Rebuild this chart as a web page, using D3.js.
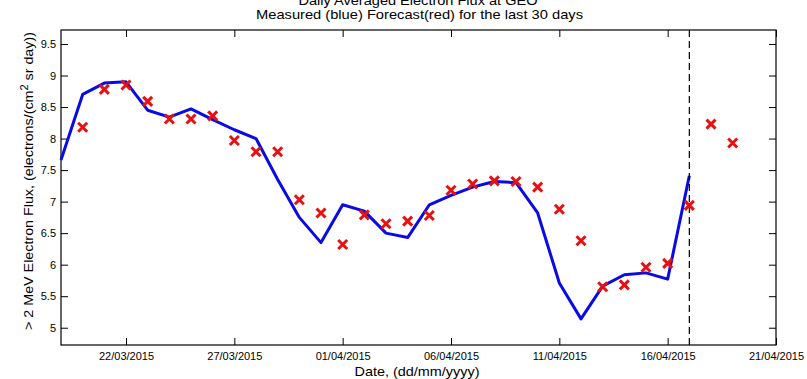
<!DOCTYPE html>
<html>
<head>
<meta charset="utf-8">
<script src="https://cdn.jsdelivr.net/npm/d3@7"></script>
<style>
  body { margin: 0; background: #fff; }
  svg { display: block; font-family: "Liberation Sans", Arial, Helvetica, sans-serif; }
</style>
</head>
<body>
<svg id="chart" width="807" height="379"></svg>
<script>
// ---- Data ----
const measuredDates = ["2015-03-19","2015-03-20","2015-03-21","2015-03-22","2015-03-23","2015-03-24","2015-03-25","2015-03-26","2015-03-27","2015-03-28","2015-03-29","2015-03-30","2015-03-31","2015-04-01","2015-04-02","2015-04-03","2015-04-04","2015-04-05","2015-04-06","2015-04-07","2015-04-08","2015-04-09","2015-04-10","2015-04-11","2015-04-12","2015-04-13","2015-04-14","2015-04-15","2015-04-16","2015-04-17"];
const measuredValues = [7.66,8.70,8.88,8.90,8.45,8.34,8.47,8.30,8.14,8.00,7.35,6.75,6.35,6.95,6.85,6.50,6.43,6.95,7.10,7.23,7.32,7.30,6.82,5.71,5.14,5.66,5.84,5.87,5.77,7.41];

const forecastDates = ["2015-03-20","2015-03-21","2015-03-22","2015-03-23","2015-03-24","2015-03-25","2015-03-26","2015-03-27","2015-03-28","2015-03-29","2015-03-30","2015-03-31","2015-04-01","2015-04-02","2015-04-03","2015-04-04","2015-04-05","2015-04-06","2015-04-07","2015-04-08","2015-04-09","2015-04-10","2015-04-11","2015-04-12","2015-04-13","2015-04-14","2015-04-15","2015-04-16","2015-04-17","2015-04-18","2015-04-19"];
const forecastValues = [8.18,8.78,8.85,8.59,8.31,8.31,8.36,7.97,7.79,7.79,7.03,6.82,6.32,6.79,6.65,6.69,6.78,7.18,7.28,7.33,7.32,7.23,6.88,6.38,5.65,5.68,5.96,6.02,6.94,8.23,7.93];

const xTickDates = ["2015-03-22","2015-03-27","2015-04-01","2015-04-06","2015-04-11","2015-04-16","2015-04-21"];
const xTickLabels = ["22/03/2015","27/03/2015","01/04/2015","06/04/2015","11/04/2015","16/04/2015","21/04/2015"];
const yTickValues = [5,5.5,6,6.5,7,7.5,8,8.5,9,9.5];
const yTickLabels = ["5","5.5","6","6.5","7","7.5","8","8.5","9","9.5"];
const xDomain = ["2015-03-19","2015-04-21"];
const yDomain = [4.726, 9.722];
const nowcastDate = "2015-04-17";

const titleLines = ["Daily Averaged Electron Flux at GEO","Measured (blue) Forecast(red) for the last 30 days"];
const xLabel = "Date, (dd/mm/yyyy)";

// ---- Layout ----
const parse = d3.utcParse("%Y-%m-%d");
const L = 61, R = 776, T = 30, B = 345;
const svg = d3.select("#chart");

const x = d3.scaleUtc().domain(xDomain.map(parse)).range([L, R]);
const y = d3.scaleLinear().domain(yDomain).range([B, T]);

const tickLen = 7;

const xAxisB = d3.axisBottom(x).tickValues(xTickDates.map(parse))
  .tickFormat((d, i) => xTickLabels[i]).tickSizeInner(-tickLen).tickSizeOuter(0).tickPadding(7);
const xAxisT = d3.axisTop(x).tickValues(xTickDates.map(parse))
  .tickFormat("").tickSizeInner(-tickLen).tickSizeOuter(0);
const yAxisL = d3.axisLeft(y).tickValues(yTickValues)
  .tickFormat((d, i) => yTickLabels[i]).tickSizeInner(-tickLen).tickSizeOuter(0).tickPadding(5);
const yAxisR = d3.axisRight(y).tickValues(yTickValues)
  .tickFormat("").tickSizeInner(-tickLen).tickSizeOuter(0);

function styleAxis(g) {
  g.selectAll(".domain").remove();
  g.selectAll(".tick line").attr("stroke", "#000").attr("stroke-width", 1);
  g.selectAll(".tick text").attr("fill", "#000").attr("font-size", 11)
    .attr("font-family", "'Liberation Sans', Arial, sans-serif");
}

svg.append("g").attr("transform", `translate(0,${B})`).call(xAxisB).call(styleAxis);
svg.append("g").attr("transform", `translate(0,${T})`).call(xAxisT).call(styleAxis);
svg.append("g").attr("transform", `translate(${L},0)`).call(yAxisL).call(styleAxis);
svg.append("g").attr("transform", `translate(${R},0)`).call(yAxisR).call(styleAxis);

svg.append("rect").attr("x", L).attr("y", T).attr("width", R - L).attr("height", B - T)
  .attr("fill", "none").attr("stroke", "#000").attr("stroke-width", 1.2);

// measured line
const measured = measuredDates.map((d, i) => ({ d: parse(d), v: measuredValues[i] }));
svg.append("path").datum(measured)
  .attr("fill", "none").attr("stroke", "#0a0ae6").attr("stroke-width", 3)
  .attr("stroke-linejoin", "round")
  .attr("d", d3.line().x(p => x(p.d)).y(p => y(p.v)));

// dashed nowcast line
svg.append("line")
  .attr("x1", x(parse(nowcastDate))).attr("x2", x(parse(nowcastDate)))
  .attr("y1", T).attr("y2", B)
  .attr("stroke", "#000").attr("stroke-width", 1.2).attr("stroke-dasharray", "7,4");

// forecast crosses
const forecast = forecastDates.map((d, i) => ({ d: parse(d), v: forecastValues[i] }));
const s = 4.5;
const gx = svg.append("g").attr("stroke", "#e81010").attr("stroke-width", 3);
gx.selectAll("path").data(forecast).join("path")
  .attr("d", p => {
    const cx = x(p.d), cy = y(p.v);
    return `M${cx - s},${cy - s}L${cx + s},${cy + s}M${cx - s},${cy + s}L${cx + s},${cy - s}`;
  });

// title
svg.append("text").attr("x", 418).attr("y", 5).attr("text-anchor", "middle")
  .attr("font-size", 13).attr("textLength", 239).attr("lengthAdjust", "spacingAndGlyphs")
  .text(titleLines[0]);
svg.append("text").attr("x", 419.5).attr("y", 18.5).attr("text-anchor", "middle")
  .attr("font-size", 13).attr("textLength", 327).attr("lengthAdjust", "spacingAndGlyphs")
  .text(titleLines[1]);

// x label
svg.append("text").attr("x", 417).attr("y", 376).attr("text-anchor", "middle")
  .attr("font-size", 13).attr("textLength", 125).attr("lengthAdjust", "spacingAndGlyphs")
  .text(xLabel);

// y label with superscript
const yl = svg.append("text").attr("transform", `translate(33,181) rotate(-90)`)
  .attr("text-anchor", "middle").attr("font-size", 13)
  .attr("textLength", 298).attr("lengthAdjust", "spacingAndGlyphs");
yl.append("tspan").text("> 2 MeV Electron Flux, (electrons/(cm");
yl.append("tspan").attr("dy", -5).attr("font-size", 10).text("2");
yl.append("tspan").attr("dy", 5).text(" sr day))");
</script>
</body>
</html>
